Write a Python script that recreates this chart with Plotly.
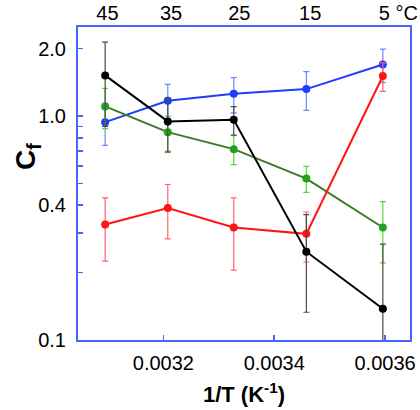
import plotly.graph_objects as go

# ---- data ----
inv_T = [0.003095, 0.003208, 0.003327, 0.003458, 0.003596]
top_labels = ["45", "35", "25", "15", "5 \u00b0C"]

blue = [0.94, 1.17, 1.26, 1.32, 1.70]
blue_err = [0.20, 0.215, 0.226, 0.26, 0.29]

black = [1.52, 0.947, 0.963, 0.248, 0.138]
black_err = [0.62, 0.257, 0.14, 0.115, 0.13]

green = [1.105, 0.848, 0.712, 0.526, 0.318]
green_err = [0.225, 0.15, 0.105, 0.07, 0.097]

red = [0.328, 0.389, 0.318, 0.298, 1.51]
red_err = [0.103, 0.106, 0.113, 0.075, 0.22]

y_tickvals = [0.1, 0.4, 1.0, 2.0]
y_ticktext = ["0.1", "0.4", "1.0", "2.0"]
y_minor_tickvals = [0.2, 0.3, 0.5, 0.6, 0.7, 0.8, 0.9]
x_tickvals = [0.0032, 0.0034, 0.0036]
x_ticktext = ["0.0032", "0.0034", "0.0036"]

series = [
    (blue, blue_err, "#1f3cff", "#1f3cff", "#6f86ff"),
    (green, green_err, "#3c7a28", "#22a022", "#5fd43c"),
    (red, red_err, "#ff1414", "#ff1414", "#ff6070"),
    (black, black_err, "#000000", "#000000", "#4a4a4a"),
]

fig = go.Figure()
for vals, errs, lc, mc, ec in series:
    fig.add_trace(go.Scatter(
        x=inv_T, y=vals, mode="lines+markers",
        line=dict(color=lc, width=2),
        marker=dict(color=mc, size=8, symbol="circle"),
        error_y=dict(type="data", array=errs, visible=True,
                     color=ec, thickness=1.2, width=3),
        showlegend=False, cliponaxis=True,
    ))

# invisible trace to activate top axis
fig.add_trace(go.Scatter(x=inv_T, y=blue, xaxis="x2", mode="markers",
                         marker=dict(opacity=0), showlegend=False,
                         hoverinfo="skip"))

axis_color = "#4a64ff"
font_family = "Liberation Sans, Arial, sans-serif"
xrange = [0.003046, 0.003645]

fig.update_layout(
    width=420, height=410,
    margin=dict(l=78, r=10, t=27, b=70, autoexpand=False),
    paper_bgcolor="white", plot_bgcolor="white",
    font=dict(family=font_family, size=20, color="black"),
    xaxis=dict(
        range=xrange, tickvals=x_tickvals, ticktext=x_ticktext,
        ticks="inside", ticklen=5, tickcolor=axis_color, tickwidth=1.5,
        showline=True, linecolor=axis_color, linewidth=2, mirror=True,
        showgrid=False, zeroline=False, automargin=False,
        tickfont=dict(size=20), ticklabelstandoff=4,
        title=dict(text="<b>1/T (K<sup>-1</sup>)</b>", font=dict(size=22), standoff=14),
    ),
    xaxis2=dict(
        overlaying="x", side="top", range=xrange, automargin=False,
        tickvals=[inv_T[0] + 0.000004, inv_T[1] + 0.000006, inv_T[2] + 0.00001,
                  inv_T[3] + 0.000007, inv_T[4] + 0.000028],
        ticktext=top_labels, ticks="", showline=False, showgrid=False,
        zeroline=False, tickfont=dict(size=20), ticklabelstandoff=2,
    ),
    yaxis=dict(
        type="log", range=[-1, 0.398], automargin=False,
        tickvals=y_tickvals, ticktext=y_ticktext,
        ticks="inside", ticklen=5, tickcolor=axis_color, tickwidth=1.5,
        minor=dict(tickvals=y_minor_tickvals, ticks="inside", ticklen=5,
                   tickcolor=axis_color, tickwidth=1.5, showgrid=False),
        showline=True, linecolor=axis_color, linewidth=2, mirror=True,
        showgrid=False, zeroline=False, tickfont=dict(size=20),
        ticklabelstandoff=6,
    ),
    annotations=[dict(
        text="<b>C<sub>f</sub></b>", textangle=-90,
        xref="paper", yref="paper", x=-0.15, y=0.585,
        showarrow=False, font=dict(size=28),
        xanchor="center", yanchor="middle",
    )],
)

fig.write_html("out.html",
               config={"displayModeBar": False, "staticPlot": True},
               post_script="document.body.style.margin='0';document.body.style.overflow='hidden';")
